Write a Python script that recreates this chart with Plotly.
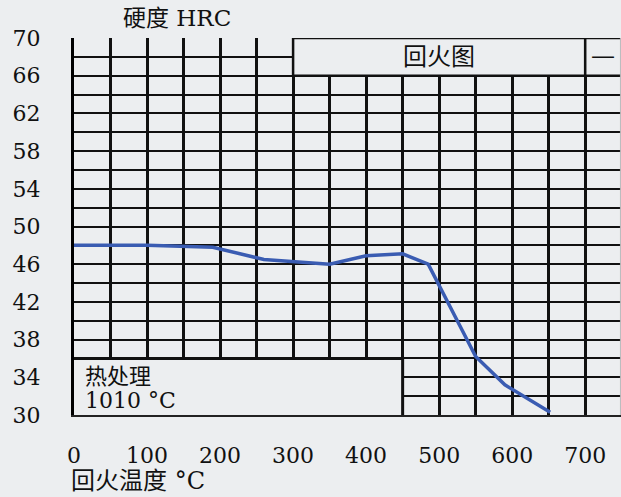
import plotly.graph_objects as go

# Data
temp_c = [0, 100, 190, 260, 350, 400, 450, 485, 550, 590, 652]
hardness_hrc = [48.0, 48.0, 47.8, 46.5, 46.0, 46.9, 47.1, 46.0, 36.2, 33.2, 30.3]

x_ticks = [0, 100, 200, 300, 400, 500, 600, 700]
y_ticks = [30, 34, 38, 42, 46, 50, 54, 58, 62, 66, 70]

title_y = "硬度 HRC"
title_x = "回火温度 °C"
box_title = "回火图"
box_dash = "—"
treat_line1 = "热处理"
treat_line2 = "1010 °C"

BG = "#eceef0"
NUM_FONT = "DejaVu Serif, Liberation Serif, Noto Sans CJK SC"
CJK_FONT = "DejaVu Serif, Noto Sans CJK SC"

fig = go.Figure()
fig.add_trace(go.Scatter(
    x=temp_c, y=hardness_hrc, mode="lines",
    line=dict(color="#3a5cb2", width=3.5),
    hoverinfo="skip", showlegend=False,
))

fig.update_layout(
    width=621, height=497,
    margin=dict(l=74, r=0, t=38, b=82),
    paper_bgcolor=BG, plot_bgcolor=BG,
    showlegend=False,
    xaxis=dict(
        range=[0, 749], tickmode="array", tickvals=x_ticks,
        showgrid=True, gridcolor="#111111", gridwidth=3,
        minor=dict(dtick=50, tick0=0, showgrid=True, gridcolor="#111111", gridwidth=3),
        showline=True, linecolor="#222222", linewidth=2,
        zeroline=False, ticks="", ticklabelstandoff=20,
        tickfont=dict(family=NUM_FONT, size=22, color="#111111"),
        fixedrange=True, automargin=False,
    ),
    yaxis=dict(
        range=[30, 70], tickmode="array", tickvals=y_ticks,
        showgrid=True, gridcolor="#111111", gridwidth=2,
        minor=dict(dtick=2, tick0=30, showgrid=True, gridcolor="#111111", gridwidth=2),
        showline=True, linecolor="#000000", linewidth=3,
        zeroline=False, ticks="", ticklabelstandoff=26,
        tickfont=dict(family=NUM_FONT, size=22, color="#111111"),
        fixedrange=True, automargin=False,
    ),
    shapes=[
        # "回火图" header box covering the grid
        dict(type="rect", xref="x", yref="y", x0=300, x1=700, y0=66, y1=70,
             fillcolor=BG, line=dict(color="#111111", width=2.5), layer="between"),
        # small cell right of header
        dict(type="rect", xref="x", yref="y", x0=700, x1=760, y0=66, y1=70,
             fillcolor=BG, line=dict(color="#111111", width=2.5), layer="between"),
        # heat-treatment box bottom left
        dict(type="rect", xref="x", yref="y", x0=-10, x1=450, y0=29, y1=36,
             fillcolor=BG, line=dict(color="#111111", width=3), layer="between"),
        # faint right border of the sheet
        dict(type="line", xref="paper", yref="paper", x0=0.999, x1=0.999, y0=0, y1=1,
             line=dict(color="#b8babc", width=1), layer="above"),
    ],
    annotations=[
        dict(text=title_y, xref="paper", yref="paper", x=(177 - 74) / 547, y=1 + (38 - 18) / 377,
             xanchor="center", yanchor="middle", showarrow=False,
             font=dict(family=CJK_FONT, size=23, color="#111111")),
        dict(text=title_x, xref="paper", yref="paper", x=(138 - 74) / 547, y=-(481 - 415) / 377,
             xanchor="center", yanchor="middle", showarrow=False,
             font=dict(family=CJK_FONT, size=24, color="#111111")),
        dict(text=box_title, xref="x", yref="y", x=500, y=68,
             xanchor="center", yanchor="middle", showarrow=False,
             font=dict(family=CJK_FONT, size=24, color="#111111")),
        dict(text=box_dash, xref="x", yref="y", x=724, y=68.1,
             xanchor="center", yanchor="middle", showarrow=False,
             font=dict(family=CJK_FONT, size=24, color="#111111")),
        dict(text=treat_line1, xref="x", yref="y", x=12, y=34.1,
             xanchor="left", yanchor="middle", showarrow=False,
             font=dict(family=CJK_FONT, size=22, color="#111111")),
        dict(text=treat_line2, xref="x", yref="y", x=12, y=31.5,
             xanchor="left", yanchor="middle", showarrow=False,
             font=dict(family=CJK_FONT, size=22, color="#111111")),
    ],
)

fig.write_html(
    "out.html",
    config={"displayModeBar": False, "staticPlot": True},
    post_script="document.body.style.margin='0px';document.body.style.padding='0px';"
                "document.body.style.overflow='hidden';document.body.style.background='" + BG + "';",
)
